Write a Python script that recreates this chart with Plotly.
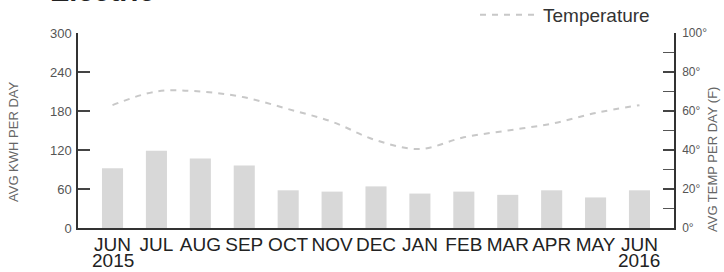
import plotly.graph_objects as go

months = ["JUN", "JUL", "AUG", "SEP", "OCT", "NOV", "DEC", "JAN", "FEB", "MAR", "APR", "MAY", "JUN"]
kwh = [92, 119, 107, 96, 58, 56, 64, 53, 56, 51, 58, 47, 58]
temp = [63, 70, 70, 67, 61, 54.5, 45, 40.5, 46.5, 50, 53.5, 59, 63]
year_labels = [(0, "2015"), (12, "2016")]
kwh_ticks = [0, 60, 120, 180, 240, 300]
temp_ticks = [0, 20, 40, 60, 80, 100]
temp_tick_text = [f"{t}°" for t in temp_ticks]

x = list(range(len(months)))
FONT = "Liberation Sans, Arial, sans-serif"
W, HT = 724, 272

fig = go.Figure()
fig.add_trace(go.Bar(
    x=x, y=kwh, width=0.48, marker=dict(color="#d8d8d8", line=dict(width=0)),
    showlegend=False, yaxis="y",
))
fig.add_trace(go.Scatter(
    x=x, y=temp, mode="lines", name="Temperature", yaxis="y2",
    line=dict(color="#c8c8c8", width=2, dash="6px,6px", shape="spline"),
))

H = 195
fig.update_layout(
    width=W, height=HT,
    margin=dict(l=78, r=50, t=33, b=44, autoexpand=False),
    paper_bgcolor="white", plot_bgcolor="white",
    font=dict(family=FONT, color="#333"),
    showlegend=True,
    legend=dict(xref="container", yref="container",
                x=475 / W, xanchor="left", y=1 - 15 / HT, yanchor="middle",
                font=dict(size=19, color="#333"), itemwidth=58,
                bgcolor="rgba(0,0,0,0)", borderwidth=0),
    xaxis=dict(
        range=[-0.786, 12.786], tickmode="array", tickvals=x, ticktext=months,
        showgrid=False, zeroline=False, showline=True, linecolor="#333", linewidth=2,
        ticks="", tickfont=dict(size=19, color="#222"), layer="below traces",
        ticklabelstandoff=-2,
    ),
    yaxis=dict(
        range=[0, 300], tickmode="array", tickvals=kwh_ticks,
        showgrid=False, zeroline=False, showline=True, linecolor="#333", linewidth=1.5,
        ticks="inside", ticklen=12, tickcolor="#444", tickwidth=1.5,
        tickfont=dict(size=13, color="#555"), ticklabelstandoff=2,
    ),
    yaxis2=dict(
        range=[0, 100], tickmode="array", tickvals=temp_ticks, ticktext=temp_tick_text,
        overlaying="y", side="right",
        showgrid=False, zeroline=False, showline=True, linecolor="#333", linewidth=1.5,
        ticks="inside", ticklen=11, tickcolor="#444", tickwidth=1.5,
        minor=dict(dtick=10, ticks="inside", ticklen=11, tickcolor="#555", tickwidth=1.2),
        tickfont=dict(size=12, color="#555"), ticklabelstandoff=4,
    ),
)

fig.add_annotation(text="<b>Electric</b>", xref="paper", yref="paper",
                   x=(48 - 78) / 596, xanchor="left", y=1 + 24 / H, yanchor="bottom",
                   showarrow=False, font=dict(size=29, color="#222"))
fig.add_annotation(text="AVG KWH PER DAY", xref="paper", yref="paper",
                   x=(13 - 78) / 596, xanchor="center", y=(228 - 142) / H, yanchor="middle",
                   textangle=-90, showarrow=False, font=dict(size=13, color="#666"))
fig.add_annotation(text="AVG TEMP PER DAY (F)", xref="paper", yref="paper",
                   x=(712 - 78) / 596, xanchor="center", y=(228 - 160) / H, yanchor="middle",
                   textangle=-90, showarrow=False, font=dict(size=13, color="#666"))
for xi, label in year_labels:
    fig.add_annotation(text=label, x=xi, xref="x", yref="paper", y=-(260 - 228) / H,
                       yanchor="middle", showarrow=False,
                       font=dict(size=19, color="#222"))

fig.write_html("out.html", config={"displayModeBar": False},
               post_script="document.body.style.margin='0';")
